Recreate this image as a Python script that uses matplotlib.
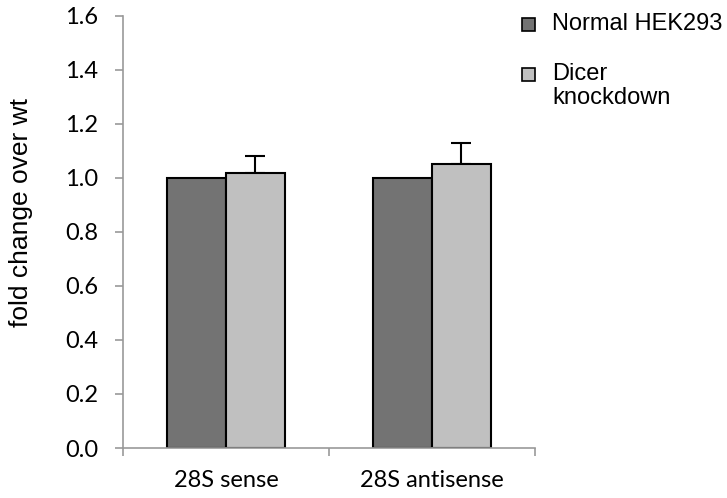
import matplotlib
matplotlib.use("Agg")
import matplotlib.pyplot as plt
from matplotlib.patches import Rectangle
import numpy as np

categories = ["28S sense", "28S antisense"]
series_names = ["Normal HEK293", "Dicer\nknockdown"]
series_colors = ["#737373", "#c0c0c0"]
normal = [1.0, 1.0]
dicer = [1.02, 1.05]
dicer_err = [0.06, 0.08]
yticks = [0.0, 0.2, 0.4, 0.6, 0.8, 1.0, 1.2, 1.4, 1.6]

fig = plt.figure(figsize=(7.27, 4.98), dpi=100)
ax = fig.add_axes([123/727, 1-448/498, 412/727, 432/498])

x = np.arange(len(categories))
w = 0.285
ax.bar(x - w/2, normal, w, color=series_colors[0], edgecolor="black", linewidth=1.5, zorder=2)
ax.bar(x + w/2, dicer, w, color=series_colors[1], edgecolor="black", linewidth=1.5, zorder=2)
ax.errorbar(x + w/2, dicer, yerr=[np.zeros(len(dicer)), dicer_err], fmt="none",
            ecolor="black", elinewidth=1.5, capsize=7.5, capthick=1.5, zorder=1)

ax.set_xlim(-0.5, 1.5)
ax.set_ylim(0, 1.6)
ax.set_yticks(yticks)
ax.set_yticklabels([f"{v:.1f}" for v in yticks], family="Lato", fontsize=17)
ax.set_xticks([-0.5, 0.5, 1.5])
ax.set_xticklabels([])
ax.set_xticks(x, minor=True)
ax.set_xticklabels(categories, minor=True, family="Lato", fontsize=17)
ax.tick_params(axis="x", which="minor", length=0, pad=16)
ax.tick_params(axis="x", which="major", length=6, color="#999999", width=1.2)
ax.tick_params(axis="y", length=6, color="#999999", width=1.2, pad=12)
for s in ["top", "right"]:
    ax.spines[s].set_visible(False)
for s in ["left", "bottom"]:
    ax.spines[s].set_color("#999999")
    ax.spines[s].set_linewidth(1.2)

ax.set_ylabel("fold change over wt", family="Liberation Sans", fontsize=19)
ax.yaxis.set_label_coords(-0.218, 0.546)

# manual legend (handle aligned with first line of each label)
W, H = 727, 498
leg_items = [(series_names[0], series_colors[0], 25), (series_names[1], series_colors[1], 75)]
for name, col, yc in leg_items:
    fig.patches.append(Rectangle((522/W, 1-(yc+6.5)/H), 13/W, 13/H, transform=fig.transFigure,
                                 facecolor=col, edgecolor="black", linewidth=1.2))
    fig.text(552/W, 1-(yc-12)/H, name, ha="left", va="top", family="Liberation Sans",
             fontsize=17, linespacing=1.1)
fig.savefig("out.png", dpi=100)
